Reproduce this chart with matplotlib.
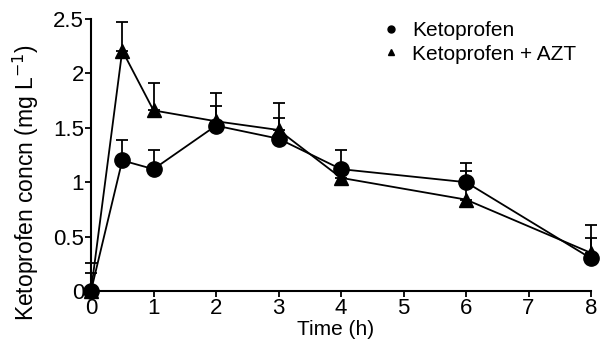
import matplotlib
matplotlib.use("Agg")
import matplotlib.pyplot as plt
import numpy as np
from matplotlib.lines import Line2D

plt.rcParams['font.family'] = ['Liberation Sans', 'DejaVu Sans']

time = [0, 0.5, 1, 2, 3, 4, 6, 8]
keto = [0.0, 1.20, 1.12, 1.52, 1.40, 1.12, 1.00, 0.30]
keto_err = [0.17, 0.19, 0.18, 0.18, 0.19, 0.18, 0.18, 0.19]
azt = [0.0, 2.21, 1.66, 1.56, 1.48, 1.04, 0.84, 0.35]
azt_err = [0.26, 0.26, 0.25, 0.26, 0.25, 0.06, 0.26, 0.26]

fig = plt.figure(figsize=(6, 3.4), dpi=100)
ax = fig.add_axes([91/600, 1-291/340, 500/600, 272/340])

ax.errorbar(time, azt, yerr=[np.zeros(len(azt)), azt_err], color='black',
            marker='^', markersize=10, lw=1.3, capsize=4, capthick=1.3,
            elinewidth=1.3, clip_on=False, zorder=3)
ax.errorbar(time, keto, yerr=[np.zeros(len(keto)), keto_err], color='black',
            marker='o', markersize=11, lw=1.3, capsize=4, capthick=1.3,
            elinewidth=1.3, clip_on=False, zorder=4)

ax.set_xlim(0, 8)
ax.set_ylim(0, 2.5)
ax.set_xticks(range(0, 9))
ax.set_yticks([0, 0.5, 1, 1.5, 2, 2.5])
ax.set_yticklabels(['0', '0.5', '1', '1.5', '2', '2.5'])
for s in ['top', 'right']:
    ax.spines[s].set_visible(False)
for s in ['left', 'bottom']:
    ax.spines[s].set_linewidth(1.5)
ax.tick_params(direction='out', length=4, width=1.3, labelsize=16, pad=1)
ax.set_xlabel('Time (h)', fontsize=15)
ax.xaxis.set_label_coords(0.49, -0.105)
ax.set_ylabel('Ketoprofen concn (mg L$^{-1}$)', fontsize=16.5)
ax.yaxis.set_label_coords(-0.1, 0.40)

handles = [Line2D([], [], color='black', marker='o', linestyle='none', markersize=5),
           Line2D([], [], color='black', marker='^', linestyle='none', markersize=5)]
ax.legend(handles, ['Ketoprofen', 'Ketoprofen + AZT'], loc='upper left',
          bbox_to_anchor=(0.55, 1.06), frameon=False, fontsize=15,
          handlelength=0.6, handletextpad=0.7, labelspacing=0.2)

fig.savefig('out.png', dpi=100)
